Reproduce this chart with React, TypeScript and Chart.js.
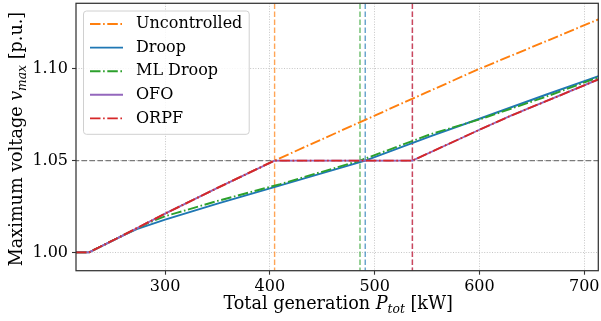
import React, { useEffect, useRef } from "react";
import { Chart, registerables } from "chart.js";

Chart.register(...registerables);

// ---------- data ----------
const SERIES_NAMES = ["Uncontrolled", "Droop", "ML Droop", "OFO", "ORPF"];
const SERIES_COLORS = ["#ff7f0e", "#1f77b4", "#2ca02c", "#9467bd", "#d62728"];
const SERIES_DASHED = [true, false, true, false, true];

const P_UNCONTROLLED = [215, 227.5, 260, 300, 350, 404.5, 450, 500, 550, 600, 650, 715];
const V_UNCONTROLLED = [1.0, 1.0, 1.0093, 1.0211, 1.0351, 1.05, 1.0617, 1.0745, 1.0873, 1.1, 1.1118, 1.1273];

const P_DROOP = [215, 227.5, 260, 273, 300, 350, 410, 491, 553, 600, 664, 715];
const V_DROOP = [1.0, 1.0, 1.0093, 1.0127, 1.0178, 1.0265, 1.0365, 1.05, 1.0632, 1.0728, 1.086, 1.0963];

const P_ML_DROOP = [215, 227.5, 260, 284, 300, 311, 350, 410, 486, 553, 600, 664, 715];
const V_ML_DROOP = [1.0, 1.0, 1.0093, 1.016, 1.0197, 1.0215, 1.028, 1.0372, 1.05, 1.0643, 1.0724, 1.0849, 1.0957];

const P_OFO = [215, 227.5, 260, 300, 350, 404.5, 536, 570, 600, 630, 663, 715];
const V_OFO = [1.0, 1.0, 1.0093, 1.0211, 1.0351, 1.05, 1.05, 1.0589, 1.0668, 1.0745, 1.0822, 1.0946];

const P_ORPF = [215, 227.5, 260, 300, 350, 404.5, 536, 570, 600, 630, 663, 715];
const V_ORPF = [1.0, 1.0, 1.0093, 1.0211, 1.0351, 1.05, 1.05, 1.0589, 1.0668, 1.0745, 1.0822, 1.0946];

// generation at which each method first reaches the voltage limit
const LIMIT_P = [404.5, 491, 486, 536, 536];
const V_LIMIT = 1.05;

const X_TICKS = [300, 400, 500, 600, 700];
const Y_TICKS = [1.0, 1.05, 1.1];
const X_RANGE = [215, 713.4];
const Y_RANGE = [0.99, 1.1357];

const X_TITLE = [
  { t: "Total generation " },
  { t: "P", it: true },
  { t: "tot", it: true, sub: true },
  { t: " [kW]" },
];
const Y_TITLE = [
  { t: "Maximum voltage " },
  { t: "v", it: true },
  { t: "max", it: true, sub: true },
  { t: " [p.u.]" },
];

// ---------- styling ----------
const FONT = '"DejaVu Serif", serif';
const DASH_DOT = [10.5, 2.6, 1.6, 2.6];

type Part = { t: string; it?: boolean; sub?: boolean };

function drawRich(ctx: CanvasRenderingContext2D, parts: Part[], cx: number, baseY: number, size: number) {
  const fontOf = (p: Part) => `${p.it ? "italic " : ""}${p.sub ? size * 0.7 : size}px ${FONT}`;
  let total = 0;
  const widths = parts.map((p) => {
    ctx.font = fontOf(p);
    const w = ctx.measureText(p.t).width;
    total += w;
    return w;
  });
  let x = cx - total / 2;
  ctx.textAlign = "left";
  ctx.textBaseline = "alphabetic";
  parts.forEach((p, i) => {
    ctx.font = fontOf(p);
    ctx.fillText(p.t, x, baseY + (p.sub ? size * 0.22 : 0));
    x += widths[i];
  });
}

function withAlpha(hex: string, a: number) {
  const n = parseInt(hex.slice(1), 16);
  return `rgba(${(n >> 16) & 255},${(n >> 8) & 255},${n & 255},${a})`;
}

const decorPlugin = {
  id: "decor",
  afterDatasetsDraw(chart: any) {
    const { ctx, chartArea: a } = chart;
    ctx.save();
    ctx.strokeStyle = "#333";
    ctx.lineWidth = 1.25;
    ctx.setLineDash([]);
    ctx.strokeRect(a.left, a.top, a.right - a.left, a.bottom - a.top);
    ctx.restore();
  },
  afterDraw(chart: any) {
    const { ctx, chartArea: a } = chart;
    ctx.save();
    ctx.fillStyle = "#000";
    // axis titles
    drawRich(ctx, X_TITLE, (a.left + a.right) / 2 + 1, 309, 17.6);
    ctx.save();
    ctx.translate(22, (a.top + a.bottom) / 2 + 2);
    ctx.rotate(-Math.PI / 2);
    drawRich(ctx, Y_TITLE, 0, 0, 17.6);
    ctx.restore();

    // legend
    const bx = a.left + 7.5, by = 11, bw = 165.7, bh = 123.3, r = 3;
    ctx.beginPath();
    ctx.moveTo(bx + r, by);
    ctx.arcTo(bx + bw, by, bx + bw, by + bh, r);
    ctx.arcTo(bx + bw, by + bh, bx, by + bh, r);
    ctx.arcTo(bx, by + bh, bx, by, r);
    ctx.arcTo(bx, by, bx + bw, by, r);
    ctx.closePath();
    ctx.fillStyle = "rgba(255,255,255,0.85)";
    ctx.fill();
    ctx.strokeStyle = "#d0d0d0";
    ctx.lineWidth = 1;
    ctx.stroke();

    SERIES_NAMES.forEach((name, i) => {
      const y = 24 + i * 23.6;
      ctx.beginPath();
      ctx.strokeStyle = SERIES_COLORS[i];
      ctx.lineWidth = 1.9;
      ctx.setLineDash(SERIES_DASHED[i] ? DASH_DOT : []);
      ctx.moveTo(a.left + 14, y);
      ctx.lineTo(a.left + 47, y);
      ctx.stroke();
      ctx.setLineDash([]);
      ctx.fillStyle = "#000";
      ctx.font = `16px ${FONT}`;
      ctx.textAlign = "left";
      ctx.textBaseline = "middle";
      ctx.fillText(name, a.left + 60, y);
    });
    ctx.restore();
  },
};

export default function App() {
  const ref = useRef<HTMLCanvasElement | null>(null);

  useEffect(() => {
    document.body.style.margin = "0";
    document.body.style.overflow = "hidden";
    if (!ref.current) return;

    const P = [P_UNCONTROLLED, P_DROOP, P_ML_DROOP, P_OFO, P_ORPF];
    const V = [V_UNCONTROLLED, V_DROOP, V_ML_DROOP, V_OFO, V_ORPF];

    const seriesSets = SERIES_NAMES.map((name, i) => ({
      label: name,
      data: P[i].map((p, j) => ({ x: p, y: V[i][j] })),
      borderColor: SERIES_COLORS[i],
      backgroundColor: SERIES_COLORS[i],
      borderWidth: 1.9,
      borderDash: SERIES_DASHED[i] ? DASH_DOT : [],
      pointRadius: 0,
      fill: false,
      tension: 0,
      order: 5 - i,
    }));

    const limitLine = {
      label: "limit",
      data: [
        { x: X_RANGE[0] - 10, y: V_LIMIT },
        { x: X_RANGE[1] + 10, y: V_LIMIT },
      ],
      borderColor: "rgba(110,110,110,0.9)",
      borderWidth: 1.4,
      borderDash: [5.5, 2.5],
      pointRadius: 0,
      fill: false,
      order: 20,
    };

    const verticals = LIMIT_P.map((p, i) => ({
      label: "v" + i,
      data: [
        { x: p, y: Y_RANGE[0] - 0.01 },
        { x: p, y: Y_RANGE[1] + 0.01 },
      ],
      borderColor: withAlpha(SERIES_COLORS[i], 0.7),
      borderWidth: 1.4,
      borderDash: [5.5, 2.5],
      pointRadius: 0,
      fill: false,
      order: 15 - i,
    }));

    const tickFont = { family: FONT, size: 16 };
    const grid = {
      color: "rgba(176,176,176,0.8)",
      lineWidth: 0.9,
      tickLength: 4,
      tickColor: "#333",
      tickWidth: 1.1,
      tickBorderDash: [],
      drawTicks: true,
    };

    const chart = new Chart(ref.current, {
      type: "line",
      data: { datasets: [...verticals, limitLine, ...seriesSets] as any },
      options: {
        animation: false,
        responsive: true,
        maintainAspectRatio: false,
        parsing: true,
        layout: { padding: { left: 0, right: 2.7, top: 3.3, bottom: 0 } },
        plugins: {
          legend: { display: false },
          tooltip: { enabled: false },
          title: { display: false },
        },
        scales: {
          x: {
            type: "linear",
            min: X_RANGE[0],
            max: X_RANGE[1],
            afterBuildTicks: (s: any) => {
              s.ticks = X_TICKS.map((v) => ({ value: v }));
            },
            afterFit: (s: any) => {
              s.height = 50.3;
              s.paddingLeft = 0;
              s.paddingRight = 0;
            },
            ticks: {
              font: tickFont,
              color: "#000",
              padding: 3,
              maxRotation: 0,
              autoSkip: false,
              callback: (v: any) => String(v),
            },
            grid,
            border: { display: false, dash: [1, 1.6] },
          },
          y: {
            type: "linear",
            min: Y_RANGE[0],
            max: Y_RANGE[1],
            afterBuildTicks: (s: any) => {
              s.ticks = Y_TICKS.map((v) => ({ value: v }));
            },
            afterFit: (s: any) => {
              s.width = 76;
              s.paddingTop = 0;
              s.paddingBottom = 0;
            },
            ticks: {
              font: tickFont,
              color: "#000",
              padding: 4,
              autoSkip: false,
              callback: (v: any) => Number(v).toFixed(2),
            },
            grid,
            border: { display: false, dash: [1, 1.6] },
          },
        },
      } as any,
      plugins: [decorPlugin],
    });

    return () => chart.destroy();
  }, []);

  return (
    <div style={{ width: 601, height: 321, position: "relative" }}>
      <canvas ref={ref} />
    </div>
  );
}
